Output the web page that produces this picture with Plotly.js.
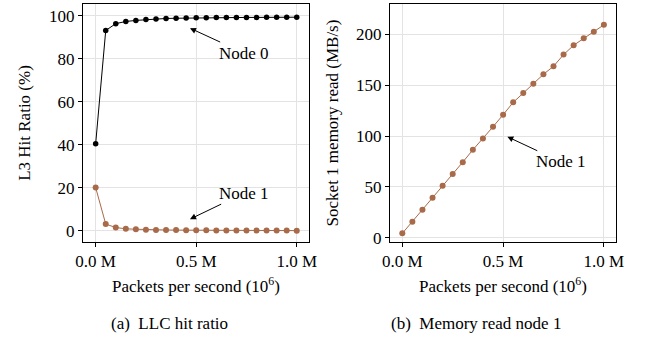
<!DOCTYPE html>
<html>
<head>
<meta charset="utf-8">
<script src="https://cdn.plot.ly/plotly-3.0.1.min.js"></script>
<style>html,body{margin:0;padding:0;background:#fff;}#chart{width:645px;height:337px;}</style>
</head>
<body>
<div id="chart"></div>
<script>
// Packets per second (x), in packets/s
const pps = [0, 50000, 100000, 150000, 200000, 250000, 300000, 350000, 400000, 450000, 500000,
             550000, 600000, 650000, 700000, 750000, 800000, 850000, 900000, 950000, 1000000];
// L3 hit ratio (%)
const hitNode0 = [40.5, 93.2, 96.4, 97.4, 97.9, 98.3, 98.6, 98.8, 98.9, 99.0, 99.1,
                  99.1, 99.2, 99.2, 99.3, 99.3, 99.3, 99.4, 99.4, 99.4, 99.4];
const hitNode1 = [20.1, 3.1, 1.5, 0.9, 0.7, 0.5, 0.4, 0.35, 0.3, 0.25, 0.2,
                  0.2, 0.15, 0.15, 0.12, 0.1, 0.1, 0.1, 0.08, 0.08, 0.05];
// Socket 1 memory read (MB/s)
const memNode1 = [4.3, 15.8, 27.5, 39.4, 51.2, 62.8, 74.4, 86.5, 97.6, 109.2, 121.0,
                  133.2, 142.3, 151.6, 160.8, 168.7, 180.2, 189.4, 196.3, 202.6, 209.5];
const xTickVals = [0, 500000, 1000000];
const xTickText = ['0.0 M', '0.5 M', '1.0 M'];

const BLACK = '#000000';
const BROWN = '#a86a48';
const FONT = 'Liberation Serif, Times New Roman, serif';

const traces = [
  {x: pps, y: hitNode0, xaxis: 'x', yaxis: 'y', mode: 'lines+markers', name: 'Node 0',
   line: {color: BLACK, width: 1}, marker: {color: BLACK, size: 5.5}},
  {x: pps, y: hitNode1, xaxis: 'x', yaxis: 'y', mode: 'lines+markers', name: 'Node 1',
   line: {color: BROWN, width: 1}, marker: {color: BROWN, size: 6}},
  {x: pps, y: memNode1, xaxis: 'x2', yaxis: 'y2', mode: 'lines+markers', name: 'Node 1',
   line: {color: BROWN, width: 1}, marker: {color: BROWN, size: 6}}
];

const axBase = {
  showline: true, mirror: true, linecolor: '#000', linewidth: 1,
  ticks: 'outside', ticklen: 4, tickcolor: '#000', tickwidth: 1,
  showgrid: true, gridcolor: '#e3e3e3', gridwidth: 1, zeroline: false,
  tickfont: {family: FONT, size: 17, color: '#000'}
};

const annFont = {family: FONT, size: 17, color: '#000'};
const arrowStyle = {showarrow: true, arrowhead: 2, arrowsize: 1.2, arrowwidth: 1, arrowcolor: '#000', standoff: 0, startstandoff: 0};

const layout = {
  width: 645, height: 337,
  margin: {l: 0, r: 0, t: 0, b: 0},
  paper_bgcolor: '#fff', plot_bgcolor: '#fff',
  showlegend: false,
  font: {family: FONT, color: '#000'},
  xaxis: Object.assign({}, axBase, {
    domain: [83/645, 309/645], range: [-63000, 1061000], anchor: 'y',
    tickvals: xTickVals, ticktext: xTickText,
    title: {text: 'Packets per second (10<sup>6</sup>)', font: {family: FONT, size: 17}, standoff: 10}
  }),
  yaxis: Object.assign({}, axBase, {
    domain: [(337-241.7)/337, (337-4.3)/337], range: [-5.1, 105.4], anchor: 'x',
    tickvals: [0, 20, 40, 60, 80, 100],
    title: {text: 'L3 Hit Ratio (%)', font: {family: FONT, size: 17}, standoff: 14}
  }),
  xaxis2: Object.assign({}, axBase, {
    domain: [390/645, 616/645], range: [-61000, 1060000], anchor: 'y2',
    tickvals: xTickVals, ticktext: xTickText,
    title: {text: 'Packets per second (10<sup>6</sup>)', font: {family: FONT, size: 17}, standoff: 10}
  }),
  yaxis2: Object.assign({}, axBase, {
    domain: [(337-241.7)/337, (337-4.3)/337], range: [-3.9, 229.7], anchor: 'x2',
    tickvals: [0, 50, 100, 150, 200],
    title: {text: 'Socket 1 memory read (MB/s)', font: {family: FONT, size: 17}, standoff: 13}
  }),
  annotations: [
    Object.assign({xref: 'x', yref: 'y', x: 469000, y: 94.3, ax: 738000, ay: 82.7, axref: 'x', ayref: 'y',
     text: 'Node 0', font: annFont}, arrowStyle),
    Object.assign({xref: 'x', yref: 'y', x: 469000, y: 5.4, ax: 738000, ay: 17.5, axref: 'x', ayref: 'y',
     text: 'Node 1', font: annFont}, arrowStyle),
    Object.assign({xref: 'x2', yref: 'y2', x: 521000, y: 99.4, ax: 786000, ay: 74.8, axref: 'x2', ayref: 'y2',
     text: 'Node 1', font: annFont}, arrowStyle),
    {xref: 'paper', yref: 'paper', x: 169/645, y: 1 - 323/337, xanchor: 'center', yanchor: 'middle',
     text: '(a)  LLC hit ratio', showarrow: false, font: {family: FONT, size: 17, color: '#000'}},
    {xref: 'paper', yref: 'paper', x: 476/645, y: 1 - 323/337, xanchor: 'center', yanchor: 'middle',
     text: '(b)  Memory read node 1', showarrow: false, font: {family: FONT, size: 17, color: '#000'}}
  ]
};

Plotly.newPlot('chart', traces, layout, {staticPlot: true, displayModeBar: false});
</script>
</body>
</html>
